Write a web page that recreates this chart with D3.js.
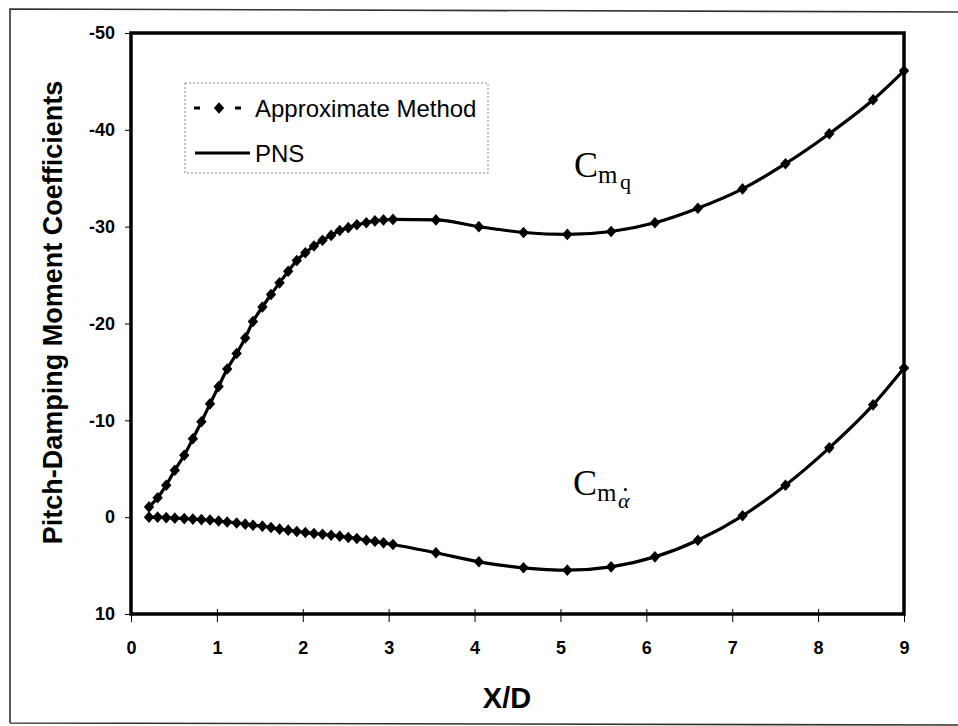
<!DOCTYPE html>
<html>
<head>
<meta charset="utf-8">
<script src="https://cdn.jsdelivr.net/npm/d3@7/dist/d3.min.js"></script>
<style>
  html, body { margin: 0; padding: 0; background: #fff; }
  svg { display: block; }
</style>
</head>
<body>
<svg id="chart" width="958" height="726"></svg>
<script>
// ---------------- data ----------------
const xTicks = [0, 1, 2, 3, 4, 5, 6, 7, 8, 9];
const yTicks = [-50, -40, -30, -20, -10, 0, 10];

// X/D stations of the approximate-method markers
const xApprox = [0.21, 0.31, 0.41, 0.51, 0.62, 0.72, 0.82, 0.92, 1.02, 1.12,
                 1.23, 1.33, 1.42, 1.53, 1.63, 1.73, 1.83, 1.93, 2.03, 2.13,
                 2.23, 2.33, 2.43, 2.53, 2.63, 2.74, 2.84, 2.94, 3.05,
                 3.55, 4.05, 4.57, 5.08, 5.59, 6.10, 6.60, 7.12, 7.62, 8.13, 8.64, 9.0];
// C_mq
const cmqApprox = [-1.06, -2.0, -3.3, -4.85, -6.4, -8.1, -9.85, -11.7, -13.5, -15.3,
                   -16.9, -18.5, -20.2, -21.7, -23.0, -24.2, -25.4, -26.5, -27.3, -28.0,
                   -28.6, -29.1, -29.6, -29.9, -30.2, -30.4, -30.6, -30.7, -30.75,
                   -30.7, -30.0, -29.4, -29.2, -29.5, -30.4, -31.9, -33.9, -36.5, -39.6, -43.1, -46.1];
// C_m alpha-dot
const cmadApprox = [0.0, 0.0, 0.05, 0.1, 0.15, 0.2, 0.25, 0.3, 0.4, 0.5,
                    0.6, 0.72, 0.83, 0.93, 1.07, 1.24, 1.34, 1.48, 1.58, 1.69,
                    1.76, 1.86, 1.96, 2.1, 2.2, 2.38, 2.51, 2.65, 2.82,
                    3.68, 4.61, 5.23, 5.47, 5.13, 4.10, 2.38, -0.14, -3.3, -7.16, -11.6, -15.4];

// PNS curves (coincide with the approximate method in the picture)
const xPNS = xApprox;
const cmqPNS = cmqApprox;
const cmadPNS = cmadApprox;

const legendLabels = ["Approximate Method", "PNS"];
const xTitle = "X/D";
const yTitle = "Pitch-Damping Moment Coefficients";

// ---------------- layout ----------------
const svg = d3.select("#chart");
const plot = { left: 131, top: 33, right: 904, bottom: 614 };
const sans = "'Liberation Sans', Arial, Helvetica, sans-serif";
const serif = "'Liberation Serif', 'Times New Roman', serif";

const x = d3.scaleLinear().domain([0, 9]).range([plot.left, plot.right]);
const y = d3.scaleLinear().domain([-50, 10]).range([plot.top, plot.bottom]);

// outer frame
svg.append("path")
  .attr("d", "M10,723 L10,9 L960,12 M10,723 L960,725")
  .attr("fill", "none").attr("stroke", "#333").attr("stroke-width", 1.6);

// axes
const gy = svg.append("g").attr("transform", `translate(${plot.left},0)`)
  .call(d3.axisLeft(y).tickValues(yTicks).tickFormat(d => String(d)).tickSize(6).tickPadding(10));
gy.select(".domain").remove();
gy.selectAll("text").attr("font-family", sans).attr("font-size", 18)
  .attr("font-weight", "bold").attr("fill", "#000");
gy.selectAll("line").attr("stroke", "#000").attr("stroke-width", 1);

const gx = svg.append("g").attr("transform", `translate(0,${plot.bottom})`)
  .call(d3.axisBottom(x).tickValues(xTicks).tickFormat(d => String(d)).tickSize(8).tickPadding(19));
gx.select(".domain").remove();
gx.selectAll("line").attr("y1", -5).attr("y2", 8).attr("stroke", "#000").attr("stroke-width", 1);
gx.selectAll("text").attr("font-family", sans).attr("font-size", 18)
  .attr("font-weight", "bold").attr("fill", "#000");

// plot border
svg.append("rect")
  .attr("x", plot.left).attr("y", plot.top)
  .attr("width", plot.right - plot.left).attr("height", plot.bottom - plot.top)
  .attr("fill", "none").attr("stroke", "#000").attr("stroke-width", 3.5);

// axis titles
svg.append("text")
  .attr("transform", `translate(62,${(82 + 543) / 2}) rotate(-90)`)
  .attr("text-anchor", "middle")
  .attr("font-family", sans).attr("font-size", 27).attr("font-weight", "bold")
  .text(yTitle);
svg.append("text")
  .attr("x", 507).attr("y", 708)
  .attr("text-anchor", "middle")
  .attr("font-family", sans).attr("font-size", 29).attr("font-weight", "bold")
  .text(xTitle);

// ---------------- series ----------------
const diamond = {
  draw(ctx, size) {
    const w = 5.2, h = 5.8;
    ctx.moveTo(0, -h); ctx.lineTo(w, 0); ctx.lineTo(0, h); ctx.lineTo(-w, 0); ctx.closePath();
  }
};
const sym = d3.symbol().type(diamond);

const line = d3.line().x(d => x(d[0])).y(d => y(d[1])).curve(d3.curveMonotoneX);

const pnsSeries = [d3.zip(xPNS, cmqPNS), d3.zip(xPNS, cmadPNS)];
const approxSeries = [d3.zip(xApprox, cmqApprox), d3.zip(xApprox, cmadApprox)];

const gData = svg.append("g");
approxSeries.forEach(s => {
  gData.append("path").attr("d", line(s)).attr("fill", "none")
    .attr("stroke", "#000").attr("stroke-width", 2).attr("stroke-dasharray", "6,5");
});
pnsSeries.forEach(s => {
  gData.append("path").attr("d", line(s)).attr("fill", "none")
    .attr("stroke", "#000").attr("stroke-width", 3.2);
});
approxSeries.forEach(s => {
  gData.selectAll(null).data(s).enter().append("path")
    .attr("d", sym)
    .attr("transform", d => `translate(${x(d[0])},${y(d[1])})`)
    .attr("fill", "#000");
});

// ---------------- curve labels ----------------
function cmLabel(xc, yb) {
  const t = svg.append("text").attr("x", xc).attr("y", yb)
    .attr("font-family", serif).attr("fill", "#000");
  t.append("tspan").attr("font-size", 36).text("C");
  t.append("tspan").attr("font-size", 25).attr("dy", 6).text("m");
  return t;
}
cmLabel(574, 177);
svg.append("text").attr("x", 620).attr("y", 189)
  .attr("font-family", serif).attr("font-size", 22).text("q");

cmLabel(573, 495);
const alpha = svg.append("text").attr("x", 618).attr("y", 508)
  .attr("font-family", serif).attr("font-size", 22).attr("font-style", "italic").text("α");
const ab = alpha.node().getBBox();
svg.append("circle").attr("cx", ab.x + ab.width * 0.62).attr("cy", ab.y + 1.5).attr("r", 1.6).attr("fill", "#000");

// ---------------- legend ----------------
const lg = svg.append("g");
lg.append("rect").attr("x", 185).attr("y", 83).attr("width", 303).attr("height", 90)
  .attr("fill", "#fff").attr("stroke", "#888").attr("stroke-width", 1).attr("stroke-dasharray", "2,2");
lg.append("line").attr("x1", 194).attr("x2", 200).attr("y1", 108).attr("y2", 108)
  .attr("stroke", "#000").attr("stroke-width", 3);
lg.append("line").attr("x1", 235).attr("x2", 241).attr("y1", 108).attr("y2", 108)
  .attr("stroke", "#000").attr("stroke-width", 3);
lg.append("path").attr("d", sym).attr("transform", "translate(219,108)").attr("fill", "#000");
lg.append("text").attr("x", 255).attr("y", 117)
  .attr("font-family", sans).attr("font-size", 24).text(legendLabels[0]);
lg.append("line").attr("x1", 195).attr("x2", 250).attr("y1", 153).attr("y2", 153)
  .attr("stroke", "#000").attr("stroke-width", 3);
lg.append("text").attr("x", 255).attr("y", 162)
  .attr("font-family", sans).attr("font-size", 24).text(legendLabels[1]);
</script>
</body>
</html>
